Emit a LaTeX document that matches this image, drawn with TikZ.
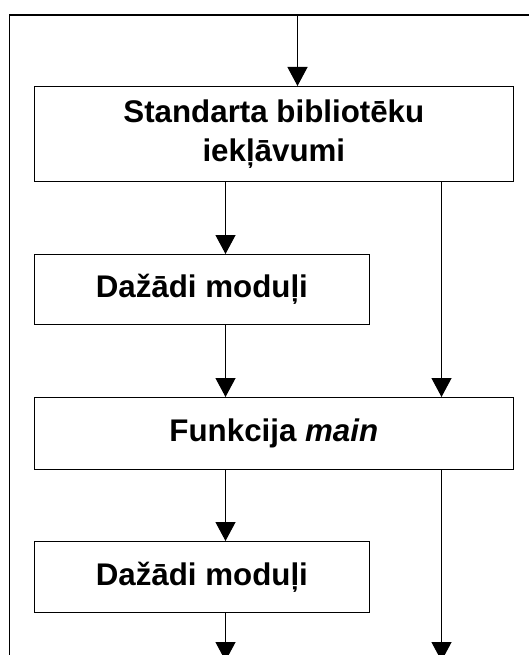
\documentclass[tikz,border=0pt]{standalone}
\usepackage{fontspec}
\setmainfont{Liberation Sans}
\usetikzlibrary{arrows.meta, positioning}
\tikzset{
    block/.style={draw, line width=1.2pt, anchor=north west, inner sep=0pt,
        align=center, font=\fontsize{31.3}{38.5}\selectfont\bfseries},
    flow/.style={line width=1.2pt, -{Triangle[length=19pt, width=20pt]}},
}

\begin{document}
\begin{tikzpicture}[x=1pt, y=-1pt]
    \clip (0,0) rectangle (529,655);
    \coordinate (entry) at (297.5,15);
    \coordinate (lcol) at (225.5,0);
    \coordinate (rcol) at (441.5,0);
    \coordinate (exit) at (0,661);

    % outer frame, open to the right and below
    \draw[line width=1.2pt] (9.5,700) |- (560,15);

    \node[block, minimum width=479.5pt, minimum height=95pt] (std)
        at (33.5,86) {Standarta bibliotēku\\iekļāvumi};
    \node[block, minimum width=335.5pt, minimum height=70pt] (mods1)
        at (33.5,254) {Dažādi moduļi};
    \node[block, minimum width=479.5pt, minimum height=72pt] (mainfn)
        at (33.5,397) {Funkcija \textit{main}};
    \node[block, minimum width=335.5pt, minimum height=71pt] (mods2)
        at (33.5,541) {Dažādi moduļi};

    \draw[flow] (entry) -- (entry |- std.north);
    \foreach \from/\to in {std/mods1, mods1/mainfn, mainfn/mods2}{
        \draw[flow] (lcol |- \from.south) -- (lcol |- \to.north);
    }
    \draw[flow] (rcol |- std.south) -- (rcol |- mainfn.north);
    \draw[flow] (lcol |- mods2.south) -- (lcol |- exit);
    \draw[flow] (rcol |- mainfn.south) -- (rcol |- exit);
\end{tikzpicture}
\end{document}
